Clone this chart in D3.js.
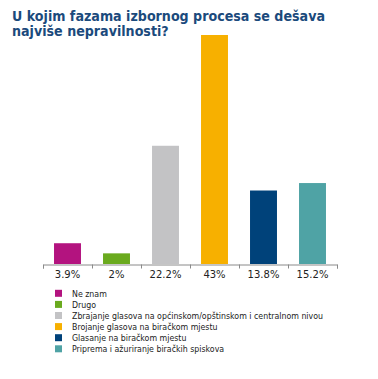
<!DOCTYPE html>
<html><head><meta charset="utf-8">
<script src="https://cdn.jsdelivr.net/npm/d3@7/dist/d3.min.js"></script>
<style>body{margin:0;background:#fff}svg{display:block}</style>
</head><body>
<svg id="c" width="378" height="379"></svg>
<script>
const titleLines = ["U kojim fazama izbornog procesa se dešava", "najviše nepravilnosti?"];
const categories = ["Ne znam", "Drugo", "Zbrajanje glasova na općinskom/opštinskom i centralnom nivou", "Brojanje glasova na biračkom mjestu", "Glasanje na biračkom mjestu", "Priprema i ažuriranje biračkih spiskova"];
const values = [3.9, 2, 22.2, 43, 13.8, 15.2];
const tickLabels = ["3.9%", "2%", "22.2%", "43%", "13.8%", "15.2%"];
const colors = ["#b3137f", "#6aaa1e", "#c3c3c5", "#f7b000", "#00427a", "#4fa3a5"];

const svg = d3.select("#c");
const font = "Tahoma, 'DejaVu Sans', Verdana, sans-serif";

// title
const title = svg.append("g");
titleLines.forEach((t, i) => {
  title.append("text").attr("x", 12).attr("y", 21 + i * 14.5)
    .attr("font-family", "'DejaVu Sans', sans-serif").attr("font-weight", "bold")
    .attr("font-size", 14.5).attr("fill", "#1b4a7c").text(t);
});
// compress to the reference width
const tnodes = title.selectAll("text").nodes();
const ratio = 313 / tnodes[0].getComputedTextLength();
tnodes.forEach(n => {
  const w = n.getComputedTextLength();
  d3.select(n).attr("textLength", w * ratio).attr("lengthAdjust", "spacingAndGlyphs");
});

const x = d3.scaleBand().domain(d3.range(values.length)).range([43, 337]).paddingInner(0.45).paddingOuter(0.225);
const y = d3.scaleLinear().domain([0, 43]).range([264, 35]);

svg.append("g").selectAll("rect").data(values).join("rect")
  .attr("x", (d, i) => x(i)).attr("width", x.bandwidth())
  .attr("y", d => y(d)).attr("height", d => y(0) - y(d))
  .attr("fill", (d, i) => colors[i]);

// axis
const xa = d3.scaleLinear().domain([0, values.length]).range([43, 337]);
const axis = svg.append("g").attr("transform", "translate(0,264.5)")
  .call(d3.axisBottom(xa).tickValues(d3.range(values.length + 1)).tickSize(4).tickFormat(""));
axis.select(".domain").attr("stroke", "#8a8a8a");
axis.selectAll(".tick line").attr("stroke", "#8a8a8a");

svg.append("g").selectAll("text").data(tickLabels).join("text")
  .attr("x", (d, i) => x(i) + x.bandwidth() / 2).attr("y", 278)
  .attr("text-anchor", "middle").attr("font-family", font).attr("font-size", 10)
  .attr("fill", "#222").text(d => d);

// legend
const lg = svg.append("g").selectAll("g").data(categories).join("g")
  .attr("transform", (d, i) => `translate(55,${293.3 + i * 11.1})`);
lg.append("rect").attr("x", 0).attr("y", -3.5).attr("width", 7).attr("height", 7)
  .attr("fill", (d, i) => colors[i]);
lg.append("text").attr("x", 17).attr("y", 3.4).attr("font-family", font)
  .attr("font-size", 9.5).attr("fill", "#222").text(d => d);
const lnodes = lg.selectAll("text").nodes();
const lratio = 251 / lnodes[2].getComputedTextLength();
lnodes.forEach(n => {
  const w = n.getComputedTextLength();
  d3.select(n).attr("textLength", w * lratio).attr("lengthAdjust", "spacingAndGlyphs");
});
</script>
</body></html>
